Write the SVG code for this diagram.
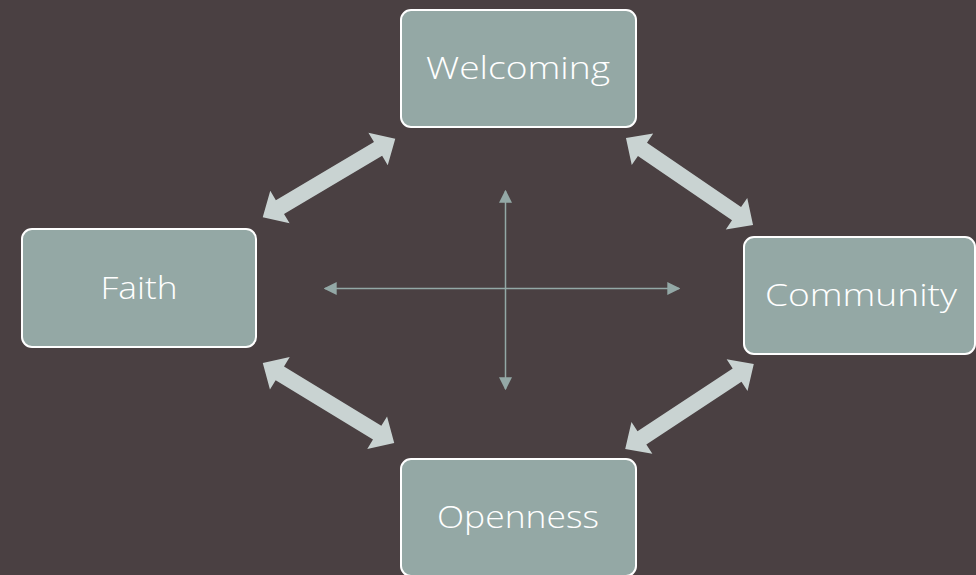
<svg xmlns="http://www.w3.org/2000/svg" width="976" height="575" viewBox="0 0 976 575">
  <style>
    .box { fill: #94a8a5; stroke: #ffffff; stroke-width: 2; }
    .lbl { fill: #ffffff; font-family: "Open Sans", "DejaVu Sans", sans-serif; font-size: 32px; font-weight: 300; text-anchor: middle; }
    .dbl { fill: #c9d3d2; }
    .axis { stroke: #93a8a6; stroke-width: 1.5; fill: none; }
  </style>
  <defs>
    <polygon id="darrow" points="-77,0 -57,-19 -57,-8 57,-8 57,-19 77,0 57,19 57,8 -57,8 -57,19"/>
    <marker id="tri" viewBox="0 0 10 10" refX="9" refY="5" markerWidth="13" markerHeight="13" markerUnits="userSpaceOnUse" orient="auto-start-reverse">
      <path d="M0,0 L10,5 L0,10 z" fill="#93a8a6"/>
    </marker>
  </defs>
  <rect width="976" height="575" fill="#4a4042"/>

  <g id="connectors">
    <use href="#darrow" class="dbl" transform="translate(329,178) rotate(-30.6)"/>
    <use href="#darrow" class="dbl" transform="translate(689.5,181.5) rotate(34.4)"/>
    <use href="#darrow" class="dbl" transform="translate(689.5,406.5) rotate(-33.4)"/>
    <use href="#darrow" class="dbl" transform="translate(328.5,403) rotate(31.4)"/>
    <line class="axis" x1="325" y1="288.5" x2="679" y2="288.5" marker-start="url(#tri)" marker-end="url(#tri)"/>
    <line class="axis" x1="505.5" y1="191" x2="505.5" y2="389" marker-start="url(#tri)" marker-end="url(#tri)"/>
  </g>

  <g id="welcoming">
    <rect class="box" x="401" y="10" width="235" height="117" rx="10"/>
    <text class="lbl" x="518" y="79" textLength="184" lengthAdjust="spacingAndGlyphs">Welcoming</text>
  </g>
  <g id="faith">
    <rect class="box" x="22" y="229" width="234" height="118" rx="10"/>
    <text class="lbl" x="139" y="299" textLength="77" lengthAdjust="spacingAndGlyphs">Faith</text>
  </g>
  <g id="community">
    <rect class="box" x="744" y="237" width="231" height="117" rx="10"/>
    <text class="lbl" x="861" y="306" textLength="192" lengthAdjust="spacingAndGlyphs">Community</text>
  </g>
  <g id="openness">
    <rect class="box" x="401" y="459" width="235" height="117" rx="10"/>
    <text class="lbl" x="518" y="528" textLength="162" lengthAdjust="spacingAndGlyphs">Openness</text>
  </g>
</svg>
